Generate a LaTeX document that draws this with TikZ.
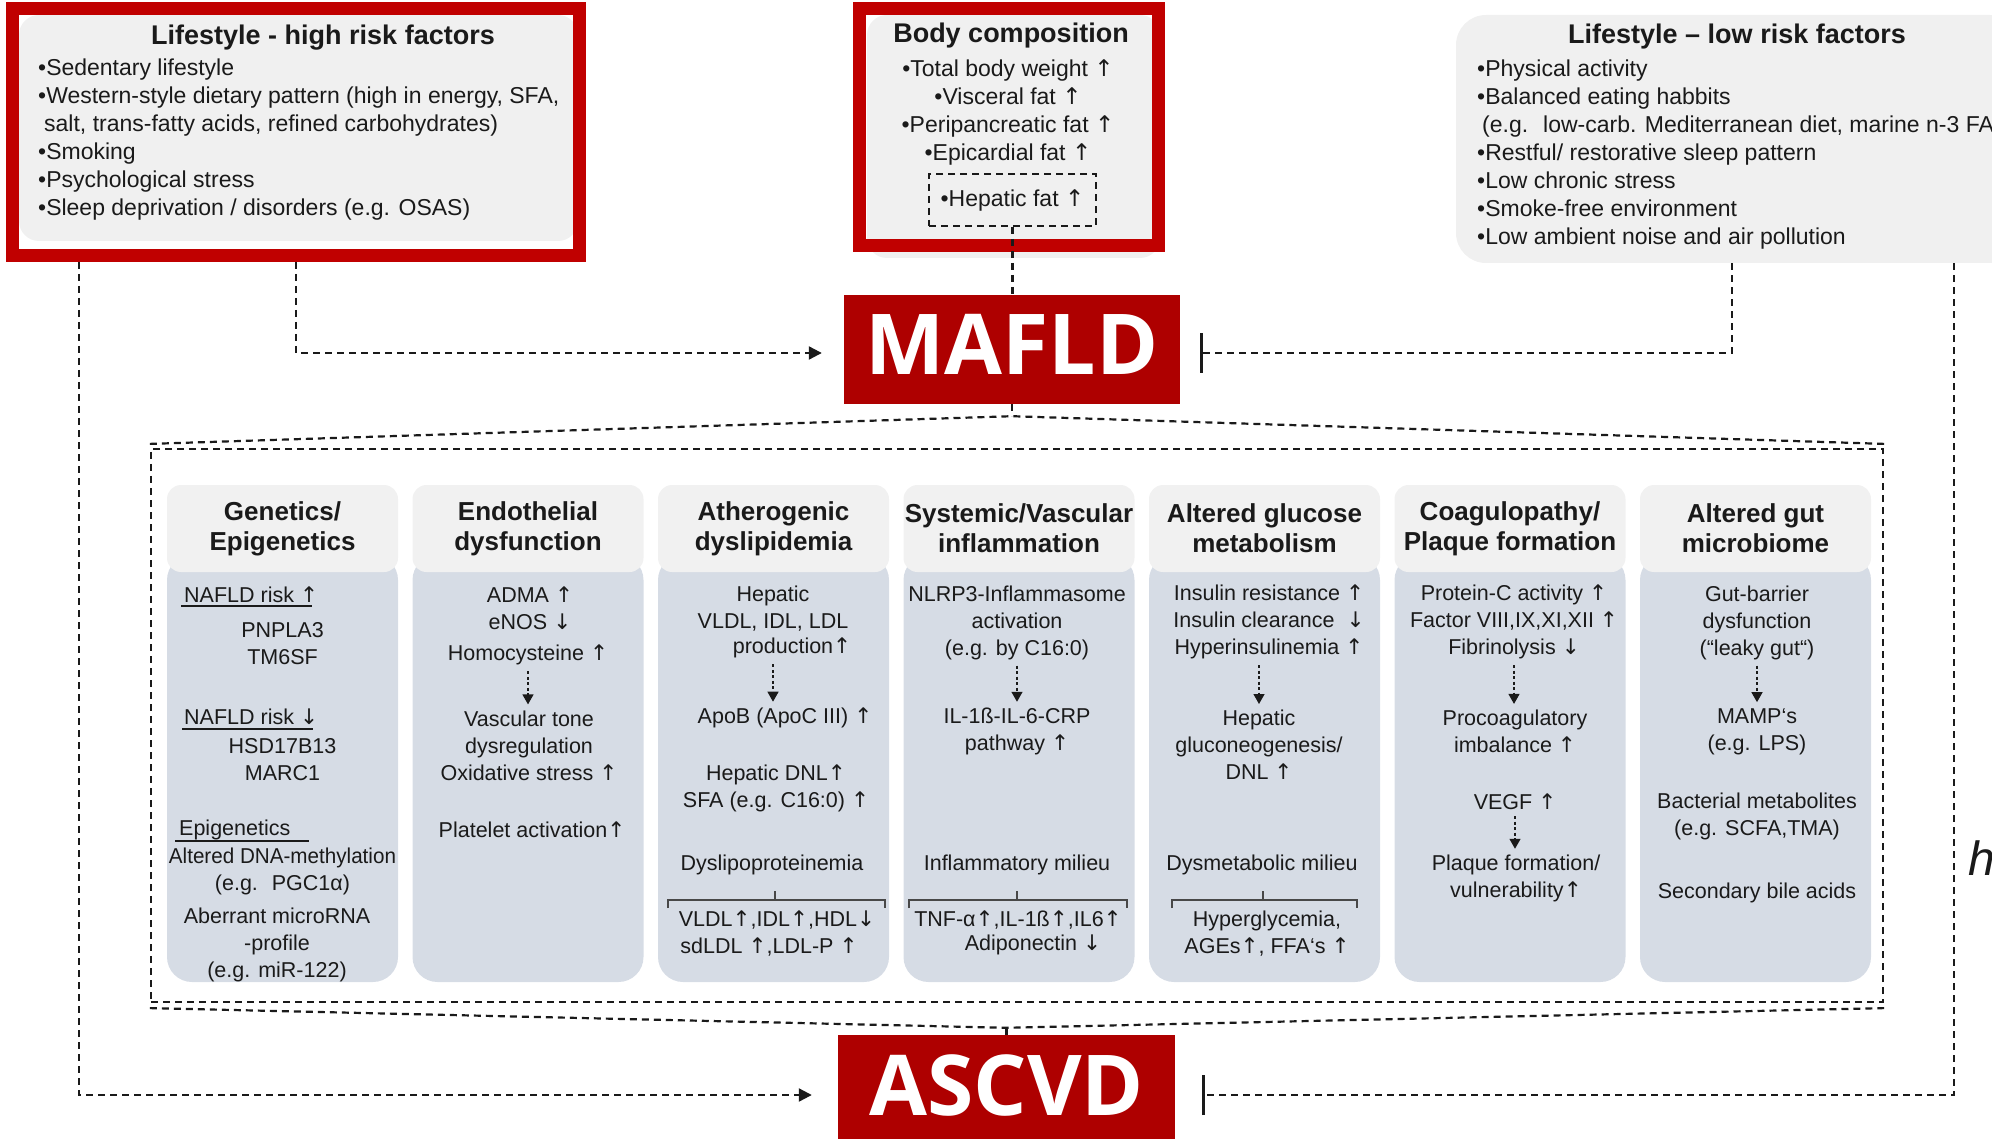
\documentclass[tikz,border=0pt]{standalone}
\usepackage{fontspec}
\setmainfont{Liberation Sans}
\newfontfamily\bigsans{Open Sans}
\newfontfamily\arrowfont{DejaVu Sans}
\newcommand\ua{{\arrowfont ↑}}
\newcommand\da{{\arrowfont ↓}}
\usetikzlibrary{arrows.meta}
\definecolor{frameRed}{HTML}{C00000}
\definecolor{boxRed}{HTML}{AE0000}
\definecolor{topGrey}{HTML}{F0F0F0}
\definecolor{hdrGrey}{HTML}{F1F1F1}
\definecolor{bodyBlue}{HTML}{D6DCE5}
\definecolor{ink}{HTML}{1A1A1A}
\begin{document}
\begin{tikzpicture}[x=1pt,y=-1pt,
  conn/.style={draw=ink, line width=2.2pt, dash pattern=on 7pt off 5pt},
  smallarr/.style={draw=ink, line width=1.3pt, dash pattern=on 3pt off 2.5pt,
     shorten <=6pt, shorten >=6pt, -{Triangle[width=11pt,length=10pt]}},
  ttl/.style={inner sep=0, text=ink, font=\fontsize{27}{30}\selectfont\bfseries},
  topbody/.style={inner sep=0, text=ink, font=\fontsize{23}{28}\selectfont},
  hdr/.style={fill=hdrGrey, rounded corners=14pt, minimum width=231pt, minimum height=87pt,
     inner sep=0, align=center, text=ink, font=\fontsize{26}{30}\selectfont\bfseries},
  colbody/.style={fill=bodyBlue, rounded corners=25pt, minimum width=231pt, minimum height=427pt, inner sep=0},
  bt/.style={inner sep=0, align=center, text=ink, font=\fontsize{21.5}{27}\selectfont},
  redbox/.style={fill=boxRed, text=white, inner sep=0, font=\bigsans\bfseries\fontsize{84}{84}\selectfont},
  tickline/.style={draw=ink, line width=1.3pt},
  brace/.style={draw=ink!80, line width=1.3pt}
]
\useasboundingbox (0,0) rectangle (1992,1139);
\clip (0,0) rectangle (1992,1139);

% ---------- top boxes ----------
\fill[topGrey, rounded corners=20pt] (19,15) rectangle (578,241);
\node[draw=frameRed, line width=13pt, outer sep=6.5pt, minimum width=567pt, minimum height=247pt, inner sep=0] (hr) at (296,132) {};
\node[ttl] (hrt) at (323,38) {Lifestyle - high risk factors};
\node[topbody, anchor=west, align=left] (hrb) at (38,139.5) {%
•Sedentary lifestyle\\
•Western-style dietary pattern (high in energy, SFA,\\
\hspace*{6pt}salt, trans-fatty acids, refined carbohydrates)\\
•Smoking\\
•Psychological stress\\
•Sleep deprivation / disorders (e.g. OSAS)};

\fill[topGrey, rounded corners=20pt] (867,15) rectangle (1160,258);
\node[draw=frameRed, line width=13pt, outer sep=6.5pt, minimum width=299pt, minimum height=237pt, inner sep=0] (bc) at (1009,127) {};
\node[ttl] (bct) at (1011,36) {Body composition};
\node[topbody, align=center] (bcb) at (1008,112.5) {%
•Total body weight \ua\\
•Visceral fat \ua\\
•Peripancreatic fat \ua\\
•Epicardial fat \ua};
\node[draw=ink, line width=1.8pt, dash pattern=on 7pt off 5pt, minimum width=167pt, minimum height=52pt,
  inner sep=0, text=ink, font=\fontsize{23}{28}\selectfont] (hep) at (1012.5,200) {•Hepatic fat \ua};

\node[fill=topGrey, rounded corners=30pt, minimum width=564pt, minimum height=248pt, inner sep=0] (lr) at (1738,139) {};
\node[ttl] (lrt) at (1737,37) {Lifestyle – low risk factors};
\node[topbody, anchor=west, align=left] (lrb) at (1477,155) {%
•Physical activity\\
•Balanced eating habbits\\
\hspace*{5pt}(e.g.~ low-carb. Mediterranean diet, marine n-3 FA\\
•Restful/ restorative sleep pattern\\
•Low chronic stress\\
•Smoke-free environment\\
•Low ambient noise and air pollution};

% ---------- MAFLD / ASCVD ----------
\node[redbox, minimum width=336pt, minimum height=109pt, text height=62pt, text depth=12pt] (mafld) at (1012,349.5) {MAFLD};
\node[redbox, minimum width=337pt, minimum height=106pt, text height=63pt, text depth=9pt] (ascvd) at (1006.5,1088) {ASCVD};

% ---------- frame ----------
\node[conn, minimum width=1732pt, minimum height=553pt, inner sep=0] (frame) at (1017,725.5) {};

% ---------- columns ----------
\node[colbody] (b1) at (282.5,768.5) {};
\node[colbody] (b2) at (528,768.5) {};
\node[colbody] (b3) at (773.5,768.5) {};
\node[colbody] (b4) at (1019,768.5) {};
\node[colbody] (b5) at (1264.5,768.5) {};
\node[colbody] (b6) at (1510,768.5) {};
\node[colbody] (b7) at (1755.5,768.5) {};
\node[hdr] (h1) at (282.5,528.5) {Genetics/\\Epigenetics};
\node[hdr] (h2) at (528,528.5) {Endothelial\\dysfunction};
\node[hdr] (h3) at (773.5,528.5) {Atherogenic\\dyslipidemia};
\node[hdr] (h4) at (1019,528.5) {Systemic/Vascular\\inflammation};
\node[hdr] (h5) at (1264.5,528.5) {Altered glucose\\metabolism};
\node[hdr] (h6) at (1510,528.5) {Coagulopathy/\\Plaque formation};
\node[hdr] (h7) at (1755.5,528.5) {Altered gut\\microbiome};

% col 1
\node[bt, anchor=west] (c1a) at (184,595) {NAFLD risk \ua};
\draw[tickline] (181,606) -- (312,606);
\node[bt] (c1b) at (282.5,643.5) {PNPLA3\\TM6SF};
\node[bt, anchor=west] (c1c) at (184,717) {NAFLD risk \da};
\draw[tickline] (182,729) -- (313,729);
\node[bt] (c1d) at (282.5,759.5) {HSD17B13\\MARC1};
\node[bt, anchor=west] (c1e) at (179,830) {Epigenetics};
\draw[tickline] (175,841) -- (309,841);
\node[bt] (c1f) at (282.5,871.5) {\scalebox{0.96}[1]{Altered DNA-methylation}\\(e.g.~ PGC1α)};
\node[bt] (c1g) at (277,945) {Aberrant microRNA\\-profile\\(e.g. miR-122)};

% col 2
\node[bt] (c2a) at (530,608.5) {ADMA \ua\\eNOS \da};
\node[bt] (c2b) at (528,655) {Homocysteine \ua};
\node[bt] (c2c) at (529,745.5) {Vascular tone\\dysregulation\\Oxidative stress \ua};
\node[bt] (c2d) at (532,830) {Platelet activation\ua};
\draw[smallarr] (c2b.south) -- (c2b.south |- c2c.north);

% col 3
\node[bt] (c3a) at (773,609) {Hepatic\\VLDL, IDL, LDL};
\node[bt] (c3b) at (792,648) {production\ua};
\node[bt] (c3c) at (785,718) {ApoB (ApoC III) \ua};
\node[bt] (c3d) at (776,788.5) {Hepatic DNL\ua\\SFA (e.g. C16:0) \ua};
\node[bt] (c3e) at (772,865) {Dyslipoproteinemia};
\node[bt] (c3f) at (777,920) {VLDL\ua,IDL\ua,HDL\da};
\node[bt] (c3g) at (769,947) {sdLDL \ua,LDL-P \ua};
\draw[smallarr] (c3a.south |- c3b.south) -- (c3a.south |- c3c.north);
\draw[brace] (668,908) -- (668,900) -- (885,900) -- (885,908);
\draw[brace] (775,900) -- (775,891);

% col 4
\node[bt] (c4a) at (1017,622.5) {NLRP3-Inflammasome\\activation\\(e.g. by C16:0)};
\node[bt] (c4b) at (1017,731.5) {IL-1ß-IL-6-CRP\\pathway \ua};
\node[bt] (c4c) at (1017,865) {Inflammatory milieu};
\node[bt] (c4d) at (1018,920) {TNF-α\ua,IL-1ß\ua,IL6\ua};
\node[bt] (c4e) at (1033,945) {Adiponectin \da};
\draw[smallarr] (c4a.south) -- (c4a.south |- c4b.north);
\draw[brace] (909,908) -- (909,900) -- (1127,900) -- (1127,908);
\draw[brace] (1017,900) -- (1017,891);

% col 5
\node[bt] (c5a) at (1269,621.7) {Insulin resistance \ua\\Insulin clearance~ \da\\Hyperinsulinemia \ua};
\node[bt] (c5b) at (1259,745) {Hepatic\\gluconeogenesis/\\DNL \ua};
\node[bt] (c5c) at (1262,865) {Dysmetabolic milieu};
\node[bt] (c5d) at (1267,933.5) {Hyperglycemia,\\AGEs\ua, FFA‘s \ua};
\draw[smallarr] (c5b.north |- c5a.south) -- (c5b.north);
\draw[brace] (1172,908) -- (1172,900) -- (1357,900) -- (1357,908);
\draw[brace] (1263,900) -- (1263,891);

% col 6
\node[bt] (c6a) at (1514,621.7) {Protein-C activity \ua\\Factor VIII,IX,XI,XII \ua\\Fibrinolysis \da};
\node[bt] (c6b) at (1515,731.5) {Procoagulatory\\imbalance \ua};
\node[bt] (c6c) at (1515,802) {VEGF \ua};
\node[bt] (c6d) at (1516,878.5) {Plaque formation/\\vulnerability\ua};
\draw[smallarr] (c6a.south) -- (c6a.south |- c6b.north);
\draw[smallarr] (c6c.south) -- (c6c.south |- c6d.north);

% col 7
\node[bt] (c7a) at (1757,622.5) {Gut-barrier\\dysfunction\\(“leaky gut“)};
\node[bt] (c7b) at (1757,731.5) {MAMP‘s\\(e.g. LPS)};
\node[bt] (c7c) at (1757,816.5) {Bacterial metabolites\\(e.g. SCFA,TMA)};
\node[bt] (c7d) at (1757,893) {Secondary bile acids};
\draw[smallarr] (c7a.south) -- (c7a.south |- c7b.north);

% ---------- connectors ----------
\draw[conn, -{Triangle[width=13pt,length=13pt]}, shorten >=22pt] (hr.south) |- ([yshift=-3.5pt]mafld.west);
\draw[conn, -{Bar[width=40pt,line width=3pt]}, shorten >=20pt] ([xshift=-6pt]lr.south) |- ([yshift=-3.5pt]mafld.east);
\draw[conn] (hep.south) -- (hep.south |- mafld.north);
\coordinate (apex1) at ([yshift=-12pt]mafld.south);
\draw[conn] (mafld.south) -- (apex1);
\draw[conn] ([yshift=4pt]frame.north west) -- (apex1) -- ([yshift=4pt]frame.north east);
\coordinate (apex2) at ([yshift=7pt]ascvd.north);
\draw[conn] ([yshift=-5pt]frame.south west) -- (apex2) -- ([yshift=-5pt]frame.south east);
\draw[conn] (apex2) -- (ascvd.north);
\draw[conn, -{Triangle[width=13pt,length=13pt]}, shorten >=26pt] ([xshift=73pt]hr.south west) |- ([yshift=-7pt]ascvd.west);
\draw[conn, -{Bar[width=40pt,line width=3pt]}, shorten >=27pt] ([xshift=216pt]lr.south) |- ([yshift=-7pt]ascvd.east);

\node[anchor=base west, inner sep=0, text=ink, font=\fontsize{48}{48}\selectfont\itshape] (hfrag) at (1968,875) {h};
\end{tikzpicture}
\end{document}
